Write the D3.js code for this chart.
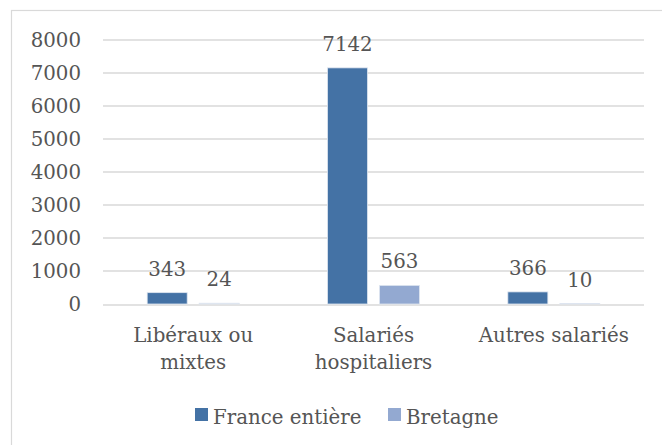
<!DOCTYPE html>
<html>
<head>
<meta charset="utf-8">
<script src="https://cdn.jsdelivr.net/npm/d3@7"></script>
<style>
  body { margin: 0; background: #fff; }
  text { font-family: "DejaVu Serif", serif; fill: #555555; }
</style>
</head>
<body>
<div id="chart"></div>
<script>
// data
const categories = [["Libéraux ou", "mixtes"], ["Salariés", "hospitaliers"], ["Autres salariés"]];
const seriesNames = ["France entière", "Bretagne"];
const franceValues = [343, 7142, 366];
const bretagneValues = [24, 563, 10];
const yTicks = [0, 1000, 2000, 3000, 4000, 5000, 6000, 7000, 8000];
const colors = ["#4472a5", "#93a9d1"];

var W = 662, H = 445;
var margin = { top: 39.5, left: 103, right: 18, bottom: 141 };
var width = W - margin.left - margin.right,
    height = H - margin.top - margin.bottom;
var fontSize = "19.8px";

var svg = d3.select("#chart").append("svg")
    .attr("width", W)
    .attr("height", H);

// chart frame
svg.append("rect")
    .attr("x", 11.5).attr("y", 10.5)
    .attr("width", 700).attr("height", 500)
    .attr("fill", "none")
    .attr("stroke", "#d9d9d9")
    .attr("stroke-width", 1.2);

var g = svg.append("g")
    .attr("transform", "translate(" + margin.left + "," + margin.top + ")");

var catKeys = categories.map(function (c) { return c.join(" "); });
var rows = catKeys.map(function (k, i) {
    return { key: k, lines: categories[i], values: [franceValues[i], bretagneValues[i]] };
});

var x0 = d3.scaleBand().domain(catKeys).range([0, width]).padding(0);
var x1 = d3.scaleBand().domain(seriesNames).range([0, x0.bandwidth()])
    .paddingInner(0.23).paddingOuter(0.85);
var y = d3.scaleLinear().domain([0, 8000]).range([height, 0]);

// gridlines
g.selectAll("line.grid")
    .data(yTicks)
    .enter().append("line")
    .attr("class", "grid")
    .attr("x1", 0).attr("x2", width)
    .attr("y1", function (d) { return Math.round(y(d)) + 0.5; })
    .attr("y2", function (d) { return Math.round(y(d)) + 0.5; })
    .attr("stroke", "#d9d9d9")
    .attr("stroke-width", 1.3);

// y axis labels
g.selectAll("text.ytick")
    .data(yTicks)
    .enter().append("text")
    .attr("class", "ytick")
    .attr("x", -22)
    .attr("y", function (d) { return y(d); })
    .attr("dy", "0.36em")
    .attr("text-anchor", "end")
    .style("font-size", fontSize)
    .text(function (d) { return d; });

// bars
var groups = g.selectAll("g.cat")
    .data(rows)
    .enter().append("g")
    .attr("class", "cat")
    .attr("transform", function (d) { return "translate(" + x0(d.key) + ",0)"; });

var bars = groups.selectAll("g.bar")
    .data(function (d) {
        return d.values.map(function (v, i) { return { name: seriesNames[i], value: v, i: i }; });
    })
    .enter().append("g").attr("class", "bar");

bars.append("rect")
    .attr("x", function (d) { return x1(d.name); })
    .attr("y", function (d) { return y(d.value); })
    .attr("width", x1.bandwidth())
    .attr("height", function (d) { return height - y(d.value); })
    .attr("fill", function (d) { return colors[d.i]; })
    .attr("stroke", "#dfe6f0")
    .attr("stroke-width", 0.8);

bars.append("text")
    .attr("x", function (d) { return x1(d.name) + x1.bandwidth() / 2; })
    .attr("y", function (d) { return y(d.value) - 17; })
    .attr("text-anchor", "middle")
    .style("font-size", fontSize)
    .text(function (d) { return d.value; });

// category labels
groups.append("text")
    .attr("x", x0.bandwidth() / 2)
    .attr("y", height + 38)
    .attr("text-anchor", "middle")
    .style("font-size", fontSize)
    .selectAll("tspan")
    .data(function (d) { return d.lines; })
    .enter().append("tspan")
    .attr("x", x0.bandwidth() / 2)
    .attr("dy", function (d, i) { return i === 0 ? 0 : 27; })
    .text(function (d) { return d; });

// legend
var legendX = [195, 388];
var legend = svg.selectAll("g.legend")
    .data(seriesNames)
    .enter().append("g")
    .attr("class", "legend")
    .attr("transform", function (d, i) { return "translate(" + legendX[i] + ",408)"; });

legend.append("rect")
    .attr("width", 13).attr("height", 13)
    .attr("fill", function (d, i) { return colors[i]; });

legend.append("text")
    .attr("x", 18)
    .attr("y", 16)
    .style("font-size", fontSize)
    .text(function (d) { return d; });
</script>
</body>
</html>
